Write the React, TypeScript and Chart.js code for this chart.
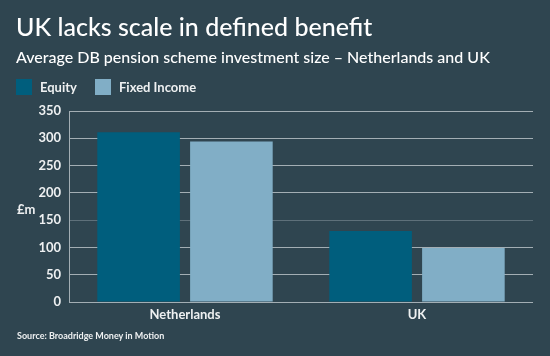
import React, { useEffect, useRef } from "react";
import { Chart, registerables } from "chart.js";

Chart.register(...registerables);

const categories = ["Netherlands", "UK"];
const equityValues = [311, 130];
const fixedIncomeValues = [294, 99];
const seriesNames = ["Equity", "Fixed Income"];
const yTicks = [0, 50, 100, 150, 200, 250, 300, 350];

const BG = "#2f4550";
const EQUITY = "#005e7d";
const FIXED = "#81aec6";
const FONT = "Lato, 'Open Sans', sans-serif";

export default function App() {
  const ref = useRef<HTMLCanvasElement | null>(null);

  useEffect(() => {
    document.body.style.margin = "0";
    if (!ref.current) return;
    const chart = new Chart(ref.current, {
      type: "bar",
      data: {
        labels: categories,
        datasets: [
          {
            label: seriesNames[0],
            data: equityValues,
            backgroundColor: EQUITY,
            categoryPercentage: 0.8,
            barPercentage: 0.89,
          },
          {
            label: seriesNames[1],
            data: fixedIncomeValues,
            backgroundColor: FIXED,
            categoryPercentage: 0.8,
            barPercentage: 0.89,
          },
        ],
      },
      options: {
        animation: false,
        responsive: false,
        maintainAspectRatio: false,
        layout: { padding: { left: 0, right: 17, top: 111, bottom: 0 } },
        plugins: {
          legend: { display: false },
          title: { display: false },
          tooltip: { enabled: false },
        },
        scales: {
          x: {
            grid: { display: false, drawTicks: false },
            border: { display: false },
            ticks: {
              color: "#eef0f1",
              font: { family: FONT, size: 13, weight: "bold" },
              padding: 5,
            },
            afterFit: (s: any) => {
              s.height = 54;
            },
          },
          y: {
            min: 0,
            max: 350,
            afterBuildTicks: (s: any) => {
              s.ticks = yTicks.map((v) => ({ value: v }));
            },
            grid: {
              color: (ctx: any) =>
                ctx.tick && ctx.tick.value === 150 ? "#5e707a" : "#a3aeb4",
              lineWidth: 1,
              drawTicks: false,
            },
            border: { display: true, color: "#a3aeb4", width: 1 },
            ticks: {
              color: "#eef0f1",
              font: { family: FONT, size: 13, weight: "bold" },
              padding: 8,
            },
            afterFit: (s: any) => {
              s.width = 69;
            },
          },
        },
      },
    });
    return () => chart.destroy();
  }, []);

  const txt: React.CSSProperties = {
    position: "absolute",
    color: "#ffffff",
    fontFamily: FONT,
    whiteSpace: "nowrap",
    lineHeight: 1,
  };

  return (
    <div
      style={{
        position: "absolute",
        left: 0,
        top: 0,
        width: 550,
        height: 356,
        background: BG,
        overflow: "hidden",
      }}
    >
      <canvas
        ref={ref}
        width={550}
        height={356}
        style={{ position: "absolute", left: 0, top: 0, width: 550, height: 356 }}
      />
      <div style={{ ...txt, left: 16, top: 14, fontSize: 25, fontWeight: 500 }}>
        UK lacks scale in defined benefit
      </div>
      <div style={{ ...txt, left: 16, top: 49, fontSize: 16, fontWeight: 500 }}>
        Average DB pension scheme investment size – Netherlands and UK
      </div>
      <div style={{ position: "absolute", left: 16, top: 79, width: 16, height: 16, background: EQUITY }} />
      <div style={{ ...txt, left: 40, top: 81, fontSize: 13, fontWeight: 700, color: "#eef0f1" }}>
        {seriesNames[0]}
      </div>
      <div style={{ position: "absolute", left: 95, top: 79, width: 16, height: 16, background: FIXED }} />
      <div style={{ ...txt, left: 119, top: 81, fontSize: 13, fontWeight: 700, color: "#eef0f1" }}>
        {seriesNames[1]}
      </div>
      <div style={{ ...txt, left: 17, top: 203, fontSize: 13, fontWeight: 700, color: "#eef0f1" }}>
        £m
      </div>
      <div style={{ ...txt, left: 17, top: 331, fontSize: 9, fontWeight: 700, color: "#eef0f1" }}>
        Source: Broadridge Money in Motion
      </div>
    </div>
  );
}
